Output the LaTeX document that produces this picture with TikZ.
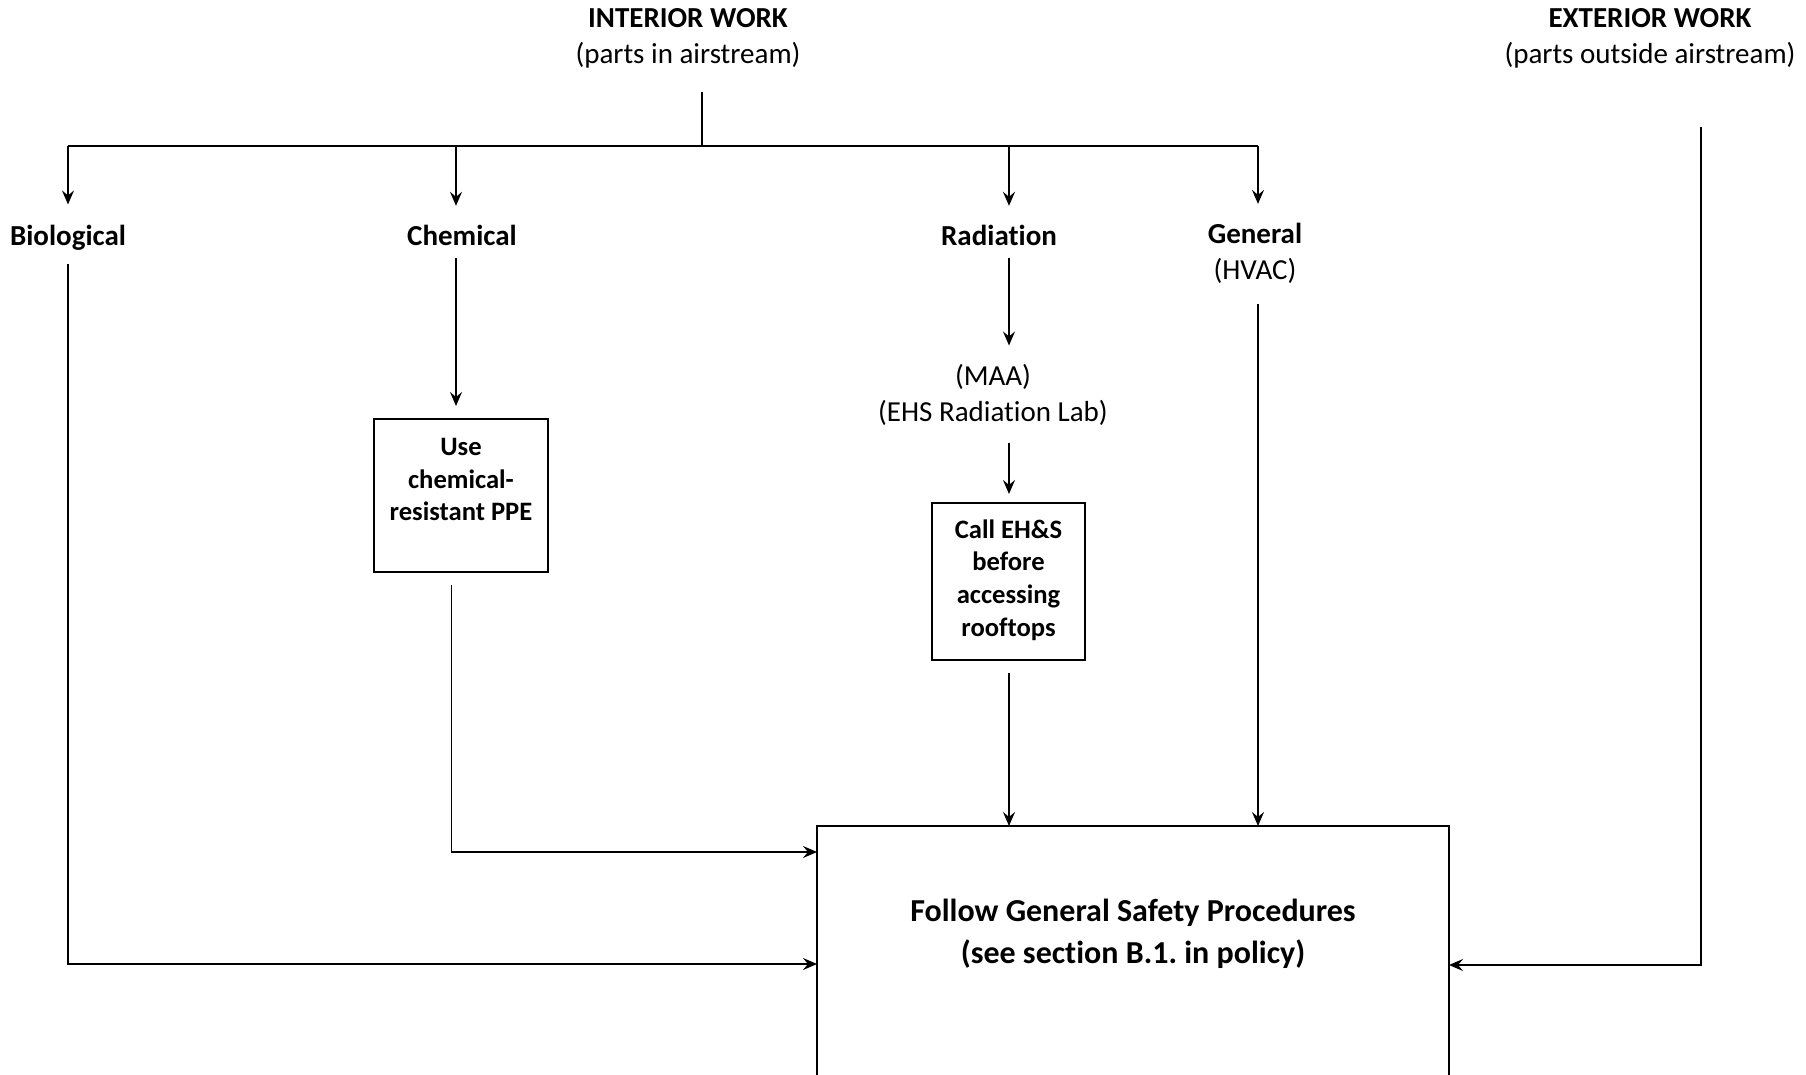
\documentclass[tikz,border=0pt]{standalone}
\usepackage{fontspec}
\setmainfont{Carlito}[Ligatures=NoCommon]
\usetikzlibrary{arrows.meta}
\frenchspacing
\begin{document}
\begin{tikzpicture}[x=0.5pt,y=-0.5pt,line width=0.9pt,
  arr/.style={-{Stealth[length=7pt,width=6pt,inset=2.5pt]}},
  lbl/.style={font=\fontsize{14.5}{18}\selectfont,align=center,inner sep=0pt},
  hd/.style={lbl,font=\fontsize{14.5}{18}\selectfont\bfseries},
  boxtxt/.style={font=\fontsize{13.3}{16.3}\selectfont\bfseries,align=center,inner sep=0pt},
  bigtxt/.style={font=\fontsize{16}{21}\selectfont\bfseries,align=center,inner sep=0pt},
  frame/.style={draw,line width=1pt,inner sep=0pt}]
\useasboundingbox (0,0) rectangle (1806,1075);

% headings
\node[lbl] (interior) at (688,38) {\textbf{INTERIOR WORK}\\(parts in airstream)};
\node[lbl] (exterior) at (1650,38) {\textbf{EXTERIOR WORK}\\(parts outside airstream)};

% bar
\coordinate (intop) at (702,92);
\coordinate (hub) at (702,146);
\coordinate (tb) at (68,146);
\coordinate (tc) at (456,146);
\coordinate (tr) at (1009,146);
\coordinate (tg) at (1258,146);
\draw (intop) -- (hub);
\draw (tb) -- (tg);

% categories
\node[hd] (bio) at (68,238) {Biological};
\node[hd] (chemlbl) at (462,235) {Chemical};
\node[hd] (rad) at (999,235) {Radiation};
\node[lbl] (gen) at (1255,253) {\textbf{General}\\(HVAC)};

\draw[arr] (tb) -- ([yshift=10pt]tb |- bio.north);
\draw[arr] (tc) -- ([yshift=9pt]tc |- chemlbl.north);
\draw[arr] (tr) -- ([yshift=9pt]tr |- rad.north);
\draw[arr] (tg) -- ([yshift=9pt]tg |- gen.north);

% chemical box
\node[frame,minimum width=87pt,minimum height=76.5pt] (ppe) at (461,495.5) {};
\node[boxtxt] (ppetxt) at (461,479.5) {Use\\chemical-\\resistant PPE};

% radiation
\node[lbl] (maa) at (993,395) {(MAA)\\(EHS Radiation Lab)};
\node[frame,minimum width=76.5pt,minimum height=78.5pt] (ehs) at (1008.5,581.5) {};
\node[boxtxt] (ehstxt) at (1008.5,580) {Call EH\&S\\before\\accessing\\rooftops};

% big box
\coordinate (bbtl) at (817,826);
\coordinate (bbbr) at (1449,1200);
\draw[line width=1pt] (bbtl) rectangle (bbbr);
\node[bigtxt] (safety) at (1133,934) {Follow General Safety Procedures\\(see section B.1. in policy)};
\coordinate (inA) at (817,852);
\coordinate (inB) at (817,964);
\coordinate (inC) at (1449,965);
\coordinate (inR) at (1009,826);
\coordinate (inG) at (1258,826);
\coordinate (extop) at (1701,127);

% connectors
\draw[arr,shorten >=6pt] ([yshift=-6pt]tc |- chemlbl.south) -- (tc |- ppe.north);
\draw[arr] ([yshift=-6pt]ppe.south -| 451.5,0) |- (inA);
\draw[arr] ([yshift=-6pt]bio.south) |- (inB);
\draw[arr] ([yshift=-6pt]tr |- rad.south) -- ([yshift=9pt]tr |- maa.north);
\draw[arr,shorten >=4pt] ([yshift=-8pt]tr |- maa.south) -- (tr |- ehs.north);
\draw[arr] ([yshift=-6pt]tr |- ehs.south) -- (inR);
\draw[arr] ([yshift=-10pt]tg |- gen.south) -- (inG);
\draw[arr] (extop) |- (inC);
\end{tikzpicture}
\end{document}
